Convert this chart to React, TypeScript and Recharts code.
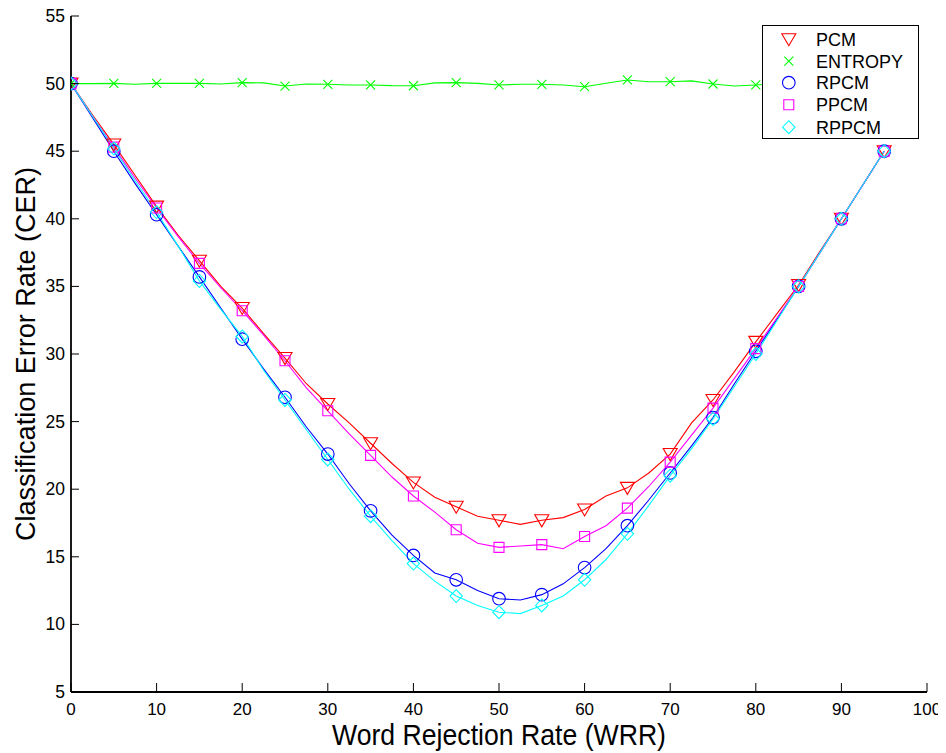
import { LineChart, Line, XAxis, YAxis } from "recharts";

const FONT = '"Liberation Sans", Arial, Helvetica, sans-serif';

// word rejection rate, sampled every 2.5 (markers drawn on multiples of 5)
const WRR = [
  0, 2.5, 5, 7.5, 10, 12.5, 15, 17.5, 20, 22.5, 25, 27.5, 30, 32.5, 35, 37.5, 40, 42.5, 45, 47.5,
  50, 52.5, 55, 57.5, 60, 62.5, 65, 67.5, 70, 72.5, 75, 77.5, 80, 82.5, 85, 87.5, 90, 92.5, 95,
];

const PCM = [
  50, 47.7, 45.5, 43.2, 40.9, 38.8, 36.9, 35.0, 33.4, 31.5, 29.7, 27.8, 26.3, 24.9, 23.4, 21.9, 20.5, 19.4, 18.7, 18.0,
  17.7, 17.4, 17.7, 17.9, 18.5, 19.5, 20.1, 21.2, 22.6, 24.9, 26.6, 28.7, 30.9, 33.0, 35.1, 37.6, 40.0, 42.5, 45.0,
];
const ENTROPY = [
  50.0, 50.0, 50.02, 49.95, 50.02, 50.02, 50.02, 49.97, 50.07, 50.05, 49.82, 49.97, 49.95, 49.9, 49.9, 49.85, 49.84, 50.05, 50.07, 50.02,
  49.9, 49.95, 49.95, 49.9, 49.77, 50.02, 50.27, 50.14, 50.14, 50.2, 49.97, 49.82, 49.9, 50.0, 50.0, 50.0, 50.0, 50.0, 50.0,
];
const RPCM = [
  50, 47.5, 45.0, 42.6, 40.3, 38.0, 35.7, 33.4, 31.1, 28.9, 26.8, 24.6, 22.6, 20.4, 18.4, 16.6, 15.1, 13.8, 13.3, 12.5,
  11.9, 11.8, 12.2, 13.0, 14.2, 15.6, 17.3, 19.2, 21.2, 23.2, 25.3, 27.8, 30.2, 32.6, 35.0, 37.5, 40.0, 42.5, 45.0,
];
const PPCM = [
  50, 47.6, 45.3, 43.0, 40.8, 38.7, 36.7, 34.9, 33.2, 31.4, 29.5, 27.5, 25.8, 24.1, 22.5, 20.9, 19.5, 18.3, 17.0, 16.0,
  15.7, 15.8, 15.9, 15.6, 16.5, 17.3, 18.6, 20.2, 22.0, 24.0, 26.0, 28.2, 30.4, 32.7, 35.0, 37.5, 40.0, 42.5, 45.0,
];
const RPPCM = [
  50, 47.6, 45.2, 42.8, 40.5, 38.0, 35.4, 33.3, 31.3, 28.8, 26.6, 24.4, 22.2, 20.0, 18.0, 16.2, 14.5, 13.2, 12.1, 11.4,
  10.9, 10.8, 11.4, 12.1, 13.3, 14.8, 16.7, 18.8, 21.0, 23.0, 25.2, 27.6, 30.0, 32.5, 35.0, 37.5, 40.0, 42.5, 45.0,
];

const X_TICKS = [0, 10, 20, 30, 40, 50, 60, 70, 80, 90, 100];
const Y_TICKS = [5, 10, 15, 20, 25, 30, 35, 40, 45, 50, 55];

type MarkerKind = "tri" | "x" | "circle" | "square" | "diamond";

const SERIES: { key: string; name: string; color: string; marker: MarkerKind }[] = [
  { key: "pcm", name: "PCM", color: "#ff0000", marker: "tri" },
  { key: "entropy", name: "ENTROPY", color: "#00ff00", marker: "x" },
  { key: "rpcm", name: "RPCM", color: "#0000ff", marker: "circle" },
  { key: "ppcm", name: "PPCM", color: "#ff00ff", marker: "square" },
  { key: "rppcm", name: "RPPCM", color: "#00ffff", marker: "diamond" },
];

const data = WRR.map((x, i) => ({
  x,
  pcm: PCM[i],
  entropy: ENTROPY[i],
  rpcm: RPCM[i],
  ppcm: PPCM[i],
  rppcm: RPPCM[i],
}));

function markerPath(kind: MarkerKind, cx: number, cy: number) {
  switch (kind) {
    case "tri":
      return `M${cx - 7},${cy - 5.5}L${cx + 7},${cy - 5.5}L${cx},${cy + 6.5}Z`;
    case "x":
      return `M${cx - 4.5},${cy - 4.5}L${cx + 4.5},${cy + 4.5}M${cx + 4.5},${cy - 4.5}L${cx - 4.5},${cy + 4.5}`;
    case "square":
      return `M${cx - 5},${cy - 5}L${cx + 5},${cy - 5}L${cx + 5},${cy + 5}L${cx - 5},${cy + 5}Z`;
    case "diamond":
      return `M${cx},${cy - 6.5}L${cx + 6.2},${cy}L${cx},${cy + 6.5}L${cx - 6.2},${cy}Z`;
    default:
      return `M${cx - 6.3},${cy}A6.3,6.3 0 1,0 ${cx + 6.3},${cy}A6.3,6.3 0 1,0 ${cx - 6.3},${cy}Z`;
  }
}

function Marker({ kind, cx, cy, color }: { kind: MarkerKind; cx: number; cy: number; color: string }) {
  return <path d={markerPath(kind, cx, cy)} fill="none" stroke={color} strokeWidth={1.1} />;
}

const makeDot = (kind: MarkerKind, color: string) => (p: any) => {
  const k = `${kind}-${p.index}`;
  if (p.payload.x % 5 !== 0 || p.cx == null) return <g key={k} />;
  return (
    <g key={k}>
      <Marker kind={kind} cx={p.cx} cy={p.cy} color={color} />
    </g>
  );
};

const BottomTick = (p: any) => (
  <g>
    <line x1={p.x} y1={p.y} x2={p.x} y2={p.y - 9} stroke="#000" strokeWidth={1} />
    <text x={p.x} y={p.y + 23} textAnchor="middle" fontSize={17} fill="#000" fontFamily={FONT}>
      {p.payload.value}
    </text>
  </g>
);

const LeftTick = (p: any) => (
  <g>
    <line x1={p.x} y1={p.y} x2={p.x + 8} y2={p.y} stroke="#000" strokeWidth={1} />
    <text x={p.x - 6} y={p.y + 6} textAnchor="end" fontSize={17.5} fill="#000" fontFamily={FONT}>
      {p.payload.value}
    </text>
  </g>
);

const TopTick = (p: any) => <line x1={p.x} y1={p.y} x2={p.x} y2={p.y + 9} stroke="#000" strokeWidth={1} />;

const RightTick = (p: any) => <line x1={p.x} y1={p.y} x2={p.x - 8} y2={p.y} stroke="#000" strokeWidth={1} />;

function Legend() {
  return (
    <div
      style={{
        position: "absolute",
        left: 761.5,
        top: 25,
        width: 157,
        height: 114,
        boxSizing: "border-box",
        border: "1.6px solid #000",
        background: "#fff",
      }}
    >
      <svg width={154} height={111} style={{ display: "block" }}>
        {SERIES.map((s, i) => {
          const cy = [13.2, 35.2, 56.7, 78.7, 101.2][i];
          return (
            <g key={s.key}>
              <Marker kind={s.marker} cx={25.8} cy={cy} color={s.color} />
              <text x={53} y={cy + 6.5} fontSize={18} fill="#000" fontFamily={FONT}>
                {s.name}
              </text>
            </g>
          );
        })}
      </svg>
    </div>
  );
}

export default function App() {
  return (
    <div style={{ position: "relative", left: -8, top: -8, width: 946, height: 753, fontFamily: FONT }}>
      <LineChart
        width={946}
        height={753}
        data={data}
        margin={{ top: 16, right: 19, bottom: 0, left: 8 }}
        style={{ fontFamily: FONT }}
      >
        <XAxis
          dataKey="x"
          type="number"
          domain={[0, 100]}
          ticks={X_TICKS}
          interval={0}
          allowDataOverflow
          height={61}
          tickSize={0}
          tickMargin={0}
          tickLine={false}
          axisLine={{ stroke: "#000", strokeWidth: 1.8 }}
          tick={BottomTick}
          label={{
            content: (p: any) => {
              const vb = p.viewBox;
              return (
                <text
                  x={vb.x + vb.width / 2}
                  y={vb.y + 52.5}
                  textAnchor="middle"
                  fontSize={29}
                  textLength={334}
                  lengthAdjust="spacingAndGlyphs"
                  fill="#000"
                  fontFamily={FONT}
                >
                  Word Rejection Rate (WRR)
                </text>
              );
            },
          }}
        />
        <XAxis
          xAxisId="top"
          orientation="top"
          type="number"
          domain={[0, 100]}
          ticks={X_TICKS}
          interval={0}
          allowDataOverflow
          height={0}
          tickSize={0}
          tickMargin={0}
          tickLine={false}
          axisLine={{ stroke: "#000", strokeWidth: 1.8 }}
          tick={TopTick}
        />
        <YAxis
          type="number"
          domain={[5, 55]}
          ticks={Y_TICKS}
          interval={0}
          allowDataOverflow
          width={63}
          tickSize={0}
          tickMargin={0}
          tickLine={false}
          axisLine={{ stroke: "#000", strokeWidth: 1.8 }}
          tick={LeftTick}
          label={{
            content: (p: any) => {
              const vb = p.viewBox;
              const cx = 35;
              const cy = vb.y + vb.height / 2;
              return (
                <text
                  x={cx}
                  y={cy}
                  transform={`rotate(-90 ${cx} ${cy})`}
                  textAnchor="middle"
                  fontSize={27}
                  textLength={374}
                  lengthAdjust="spacingAndGlyphs"
                  fill="#000"
                  fontFamily={FONT}
                >
                  Classification Error Rate (CER)
                </text>
              );
            },
          }}
        />
        <YAxis
          yAxisId="right"
          orientation="right"
          type="number"
          domain={[5, 55]}
          ticks={Y_TICKS}
          interval={0}
          allowDataOverflow
          width={0}
          tickSize={0}
          tickMargin={0}
          tickLine={false}
          axisLine={{ stroke: "#000", strokeWidth: 1.8 }}
          tick={RightTick}
        />
        {SERIES.map((s) => (
          <Line
            key={s.key}
            dataKey={s.key}
            name={s.name}
            type="linear"
            stroke={s.color}
            strokeWidth={1.1}
            dot={makeDot(s.marker, s.color)}
            activeDot={false}
            isAnimationActive={false}
          />
        ))}
      </LineChart>
      <Legend />
    </div>
  );
}
